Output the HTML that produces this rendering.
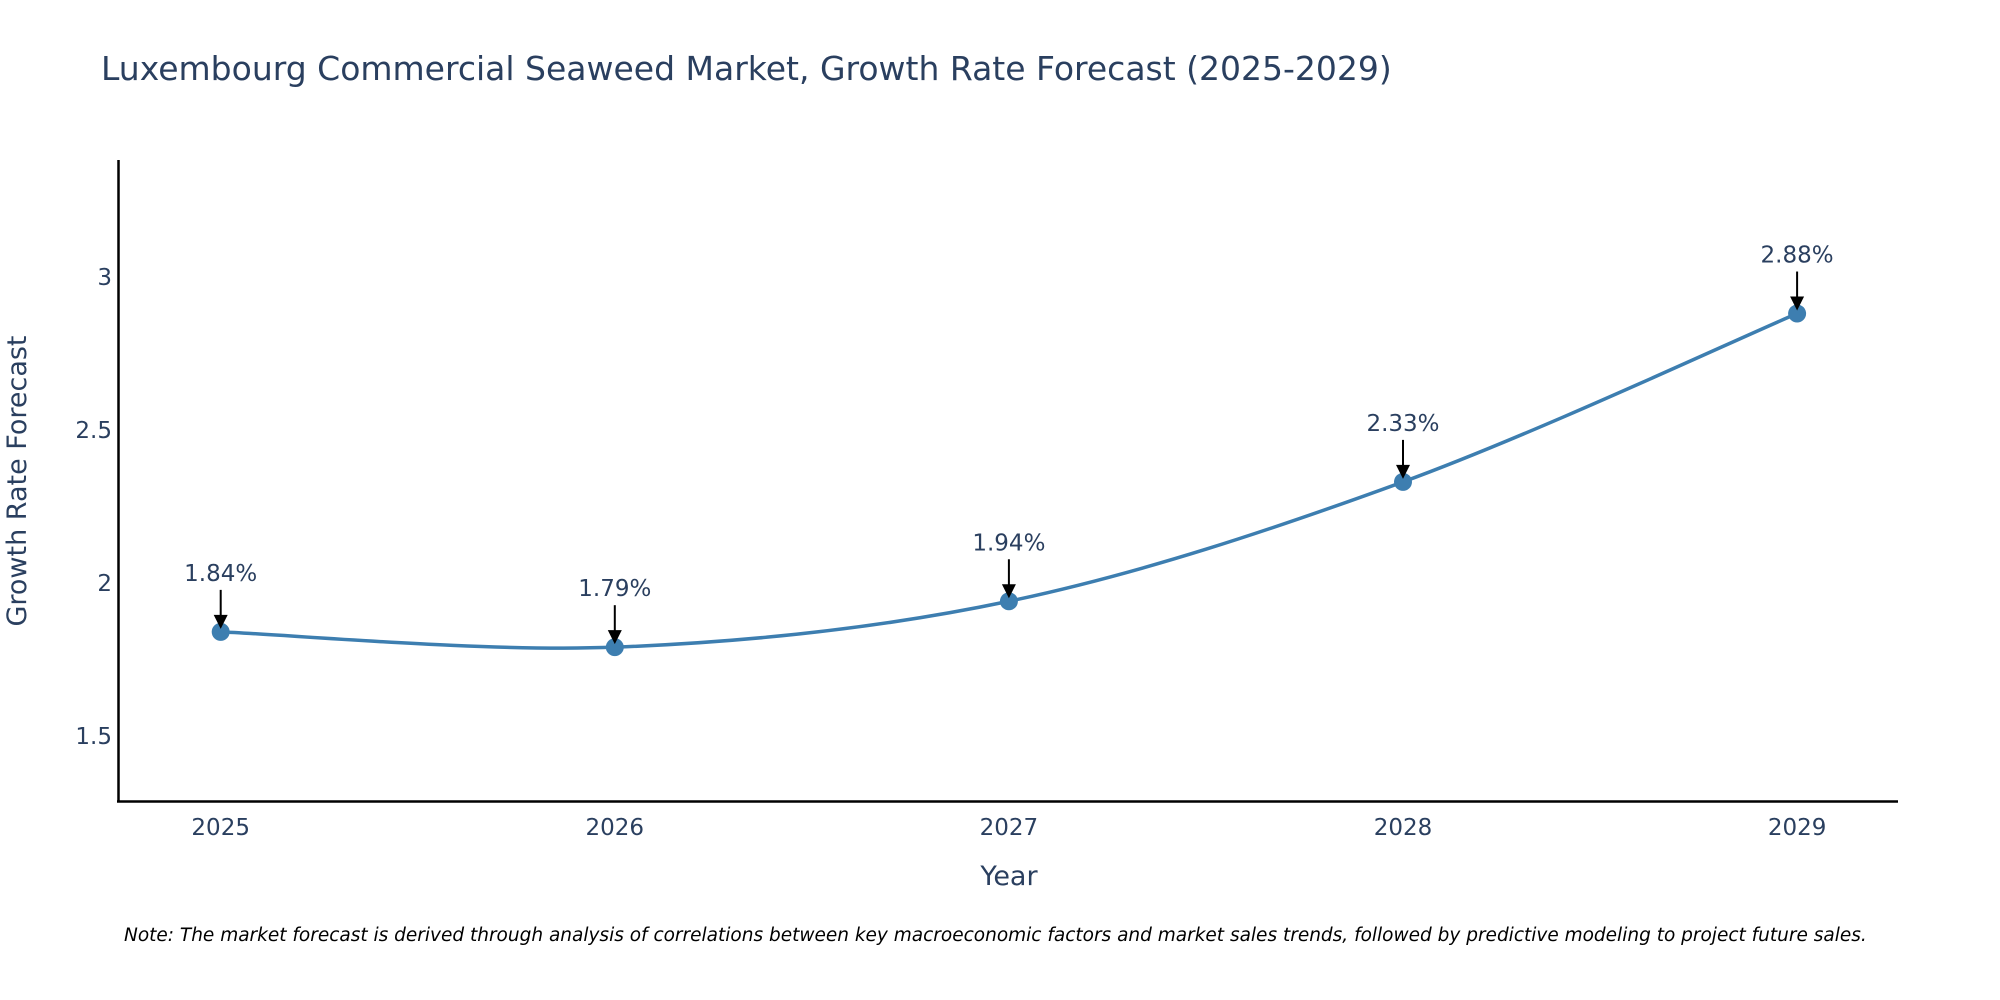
<!DOCTYPE html>
<html><head><meta charset="utf-8">
<style>
html,body{margin:0;padding:0;background:#fff;}
svg{display:block;font-family:"DejaVu Sans","Liberation Sans",sans-serif;}
</style></head>
<body>
<svg id="chart" width="2000" height="1000" viewBox="0 0 2000 1000">
  <rect width="2000" height="1000" fill="#fff"/>
  <text x="101" y="80" font-size="33" fill="#2a3f5f">Luxembourg Commercial Seaweed Market, Growth Rate Forecast (2025-2029)</text>
  <g id="yticks"></g>
  <g id="xticks"></g>
  <line x1="118.5" y1="160" x2="118.5" y2="802" stroke="#000" stroke-width="2.5"/>
  <line x1="117" y1="801.5" x2="1898" y2="801.5" stroke="#000" stroke-width="2.5"/>
  <path id="series-line" fill="none" stroke="#3d7eb0" stroke-width="3.5"/>
  <g id="points"></g>
  <g id="annots"></g>
  <text x="26" y="481" font-size="27" fill="#2a3f5f" text-anchor="middle" transform="rotate(-90 26 481)">Growth Rate Forecast</text>
  <text x="1009" y="885" font-size="27" fill="#2a3f5f" text-anchor="middle">Year</text>
  <text x="124" y="941" font-size="18.5" font-style="italic" fill="#000">Note: The market forecast is derived through analysis of correlations between key macroeconomic factors and market sales trends, followed by predictive modeling to project future sales.</text>
</svg>
<script>
const years = [2025, 2026, 2027, 2028, 2029];
const values = [1.84, 1.79, 1.94, 2.33, 2.88];
const valueLabels = ["1.84%", "1.79%", "1.94%", "2.33%", "2.88%"];
const yTickValues = [1.5, 2, 2.5, 3];
const yTickLabels = ["1.5", "2", "2.5", "3"];

const NS = "http://www.w3.org/2000/svg";
function xScale(yr){ return 220.7 + (yr - 2025) * 394.1; }
function yScale(v){ return 276.8 + (3 - v) * 306.1; }
function mk(tag, attrs, parent){ const e=document.createElementNS(NS,tag); for(const k in attrs) e.setAttribute(k,attrs[k]); parent.appendChild(e); return e; }

const yg=document.getElementById('yticks');
yTickValues.forEach((v,i)=>{
  const t=mk('text',{x:112,y:yScale(v)+8,'font-size':23,fill:'#2a3f5f','text-anchor':'end'},yg);
  
  
  t.textContent=yTickLabels[i];
});
const xg=document.getElementById('xticks');
years.forEach(yr=>{
  const t=mk('text',{x:xScale(yr),y:835,'font-size':23,fill:'#2a3f5f','text-anchor':'middle'},xg);
  
  
  t.textContent=String(yr);
});

const pts=years.map((yr,i)=>[xScale(yr),yScale(values[i])]);
let d='M'+pts[0][0]+','+pts[0][1];
for(let i=0;i<pts.length-1;i++){
  const p0=pts[Math.max(0,i-1)],p1=pts[i],p2=pts[i+1],p3=pts[Math.min(pts.length-1,i+2)];
  const s=1/6;
  const c1=[p1[0]+(p2[0]-p0[0])*s,p1[1]+(p2[1]-p0[1])*s];
  const c2=[p2[0]-(p3[0]-p1[0])*s,p2[1]-(p3[1]-p1[1])*s];
  d+=' C'+c1[0]+','+c1[1]+' '+c2[0]+','+c2[1]+' '+p2[0]+','+p2[1];
}
document.getElementById('series-line').setAttribute('d',d);

const pg=document.getElementById('points'), ag=document.getElementById('annots');
pts.forEach((p,i)=>{
  const c=mk('circle',{cx:p[0],cy:p[1],r:9,fill:'#3d7eb0'},pg);
  
  
  const l=mk('line',{x1:p[0],y1:p[1]-42,x2:p[0],y2:p[1]-14,stroke:'#000','stroke-width':2},ag);
  
  
  const h=mk('polygon',{points:(p[0]-7)+','+(p[1]-17)+' '+(p[0]+7)+','+(p[1]-17)+' '+p[0]+','+(p[1]-3),fill:'#000'},ag);
  
  
  const t=mk('text',{x:p[0],y:p[1]-51,'font-size':23,fill:'#2a3f5f','text-anchor':'middle'},ag);
  
  
  t.textContent=valueLabels[i];
});
</script>
</body></html>
